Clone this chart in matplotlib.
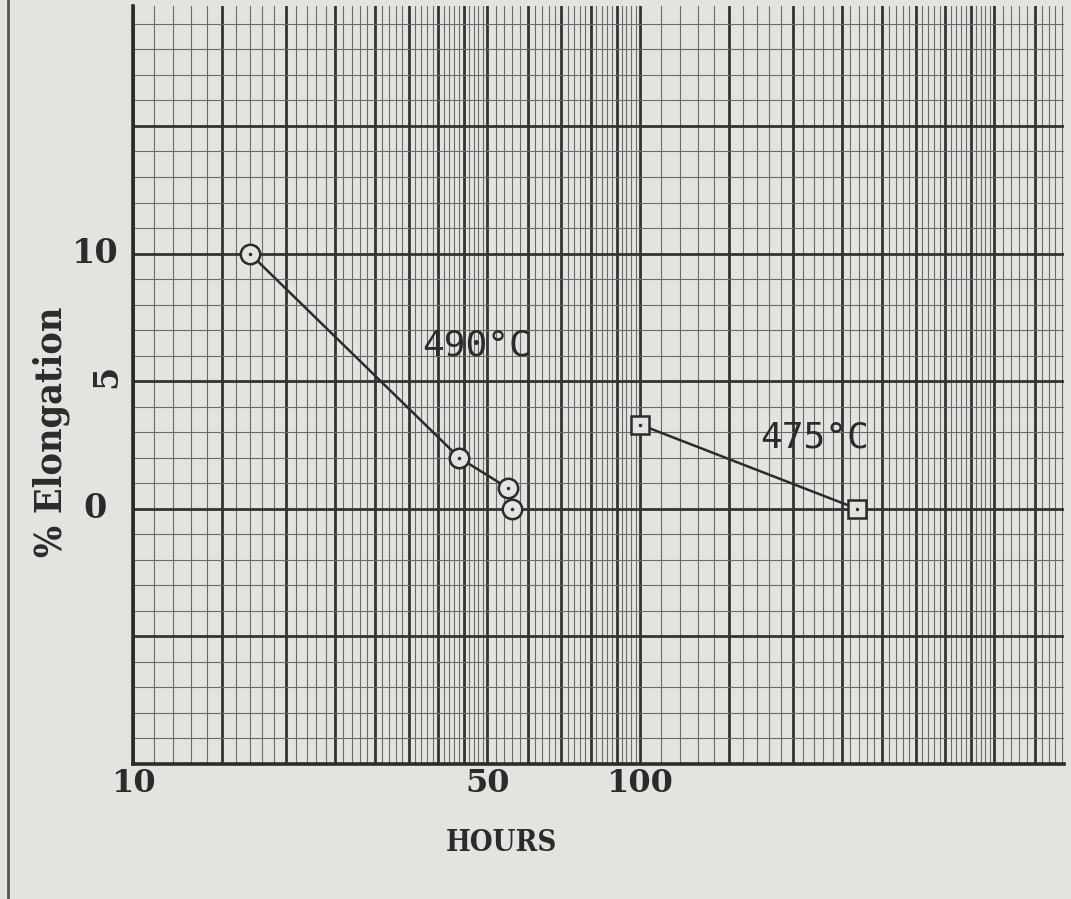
import matplotlib
matplotlib.use('Agg')
import matplotlib.pyplot as plt
from matplotlib.lines import Line2D
from matplotlib.ticker import NullFormatter

# data
hours_490 = [17, 44, 55, 56]
elong_490 = [10, 2, 0.8, 0]
hours_475 = [100, 268]
elong_475 = [3.3, 0]

x_labelled = [10, 50, 100]
y_ticks = [0, 5, 10]
y_tick_labels = ['0', '5', '10']

paper = '#e3e3e0'
ink = '#2b2b2b'
tw = 'DejaVu Serif'

fig = plt.figure(figsize=(10.71, 8.99), dpi=100, facecolor=paper)
ax = fig.add_axes([133/1071, 1 - 764/899, (1064 - 133)/1071, (764 - 6)/899])
ax.set_facecolor(paper)
ax.set_xscale('log')
ax.set_xlim(10, 686)
ax.set_ylim(-10, 19.7)

# graph paper rulings (semi-log)
heavy_x = list(range(10, 50, 5)) + list(range(50, 100, 10)) + list(range(100, 500, 50)) + list(range(500, 687, 100))
minor_x = ([v for v in range(11, 50) if v % 5] + [v for v in range(52, 100, 2) if v % 10]
           + [v for v in range(110, 500, 10) if v % 50] + [v for v in range(520, 687, 20) if v % 100])
ax.set_xticks(heavy_x, labels=[str(v) if v in x_labelled else '' for v in heavy_x])
ax.set_xticks(minor_x, minor=True)
ax.xaxis.set_minor_formatter(NullFormatter())
ax.set_yticks(range(-10, 20, 5), labels=[''] * 6)
ax.set_yticks(range(-10, 20), minor=True)

ax.grid(which='major', color='#333333', lw=2.0)
ax.grid(which='minor', color='#6a6a6a', lw=0.8)
ax.tick_params(which='both', length=0)
ax.tick_params(axis='x', pad=3, labelsize=23)
for lab in ax.get_xticklabels():
    lab.set_fontfamily(tw)
    lab.set_fontweight('bold')
    lab.set_color(ink)

for s in ['top', 'right']:
    ax.spines[s].set_visible(False)
for s in ['left', 'bottom']:
    ax.spines[s].set_linewidth(2.6)
    ax.spines[s].set_color(ink)

# y tick labels written on the sheet
ytr = ax.get_yaxis_transform()
for v, t in zip(y_ticks, y_tick_labels):
    rot = 90 if t == '5' else 0
    xoff = -0.028 if t == '5' else -0.041
    ax.text(xoff, v + (0.2 if t == '5' else 0), t, transform=ytr, ha='center', va='center',
            rotation=rot, fontsize=24, family=tw, weight='bold', color=ink)

ax.text(-0.088, 0.438, '% Elongation', transform=ax.transAxes, rotation=90,
        ha='center', va='center', fontsize=27, family=tw, stretch='condensed',
        weight='bold', color=ink)
ax.text(0.396, -0.103, 'HOURS', transform=ax.transAxes, ha='center', va='center',
        fontsize=21, family=tw, stretch='condensed', weight='bold', color=ink)

# curves
ax.plot(hours_490[:3], elong_490[:3], '-', color=ink, lw=1.8, zorder=3)
ax.plot(hours_490, elong_490, 'o', ms=14, mfc=paper, mec=ink, mew=1.8, zorder=4)
ax.plot(hours_490, elong_490, '.', ms=3, color=ink, zorder=5)
ax.plot(hours_475, elong_475, '-', color=ink, lw=1.8, zorder=3)
ax.plot(hours_475, elong_475, 's', ms=13, mfc=paper, mec=ink, mew=1.8, zorder=4)
ax.plot(hours_475, elong_475, '.', ms=3, color=ink, zorder=5)

ax.text(47.6, 6.4, '490°C', ha='center', va='center', fontsize=26,
        family='DejaVu Sans Mono', color=ink, zorder=5)
ax.text(221, 2.8, '475°C', ha='center', va='center', fontsize=26,
        family='DejaVu Sans Mono', color=ink, zorder=5)

# edge of the sheet at the far left
fig.add_artist(Line2D([8/1071, 8/1071], [0, 1], transform=fig.transFigure, color='#555555', lw=2))

fig.savefig('out.png', dpi=100, facecolor=paper)
